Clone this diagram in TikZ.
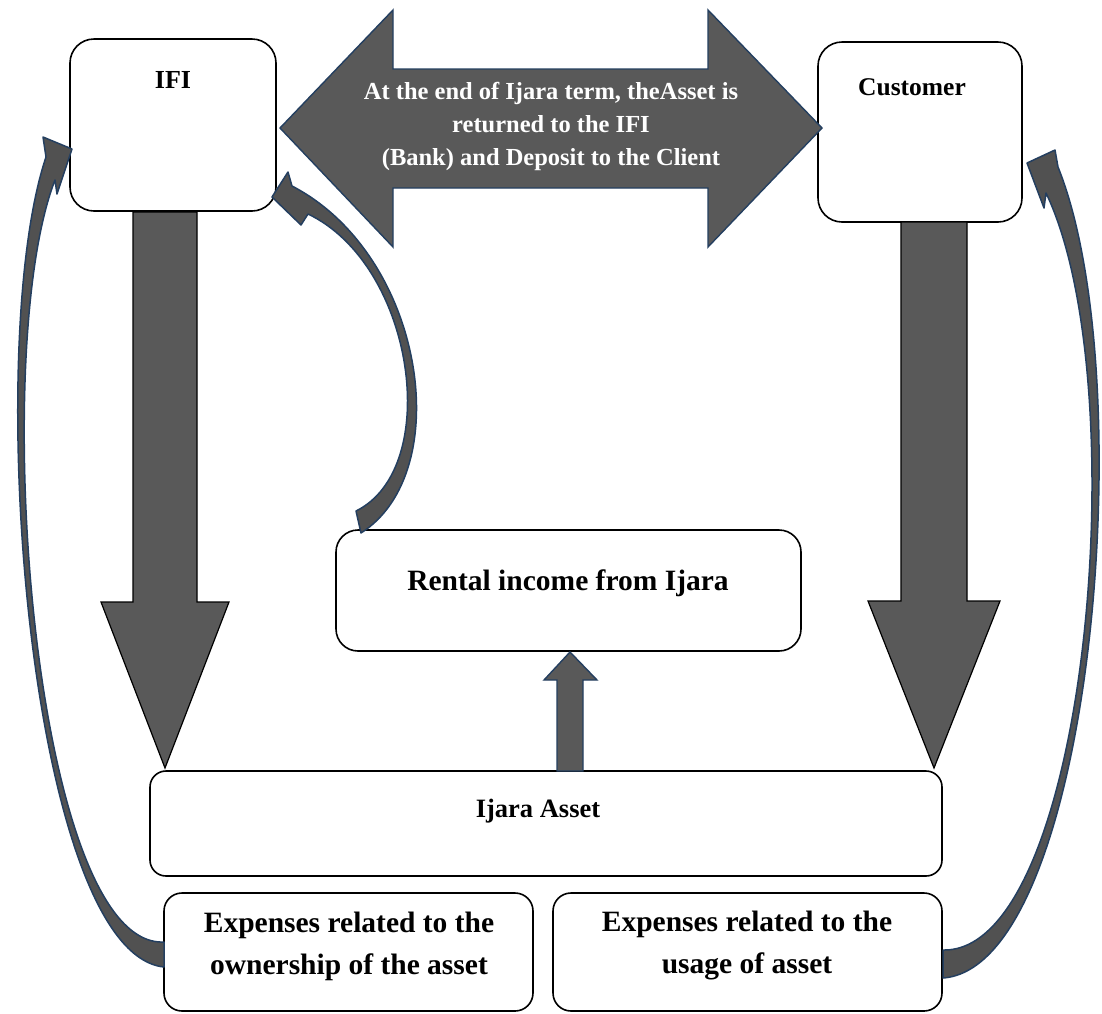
\documentclass[tikz,border=0pt]{standalone}
\usepackage{fontspec}
\setmainfont{Liberation Serif}
\usetikzlibrary{calc}
\definecolor{arrowfill}{HTML}{595959}
\definecolor{curvefill}{HTML}{515151}
\definecolor{navy}{HTML}{243F60}
\begin{document}
\begin{tikzpicture}[x=1pt,y=-1pt,
  box/.style={draw=black, line width=1.6pt, rounded corners=18pt, fill=white, inner sep=0pt},
  bigbox/.style={box, rounded corners=24pt},
  blockarrow/.style={fill=arrowfill, draw=black, line width=1.2pt, line join=miter},
  navyblock/.style={fill=arrowfill, draw=navy, line width=1.4pt, line join=miter},
  navycurve/.style={fill=curvefill, draw=navy, line width=1.5pt, line join=round},
  lbl/.style={align=center, inner sep=0pt},
]
\useasboundingbox (0,0) rectangle (1102,1013);

% boxes
\node[bigbox, minimum width=206pt, minimum height=172pt] (ifi) at (173,125) {};
\node[bigbox, minimum width=204pt, minimum height=180pt] (cust) at (920,132) {};
\node[box, rounded corners=22pt, minimum width=465pt, minimum height=121pt] (rent) at (568.5,590.5) {};
\node[box, rounded corners=16pt, minimum width=792pt, minimum height=105pt] (asset) at (546,823.5) {};
\node[box, minimum width=369pt, minimum height=118pt] (expown) at (348.5,952) {};
\node[box, minimum width=389pt, minimum height=118pt] (expuse) at (747.5,952) {};

% down block arrows
\filldraw[blockarrow] (133,212) -- (197,212) -- (197,602) -- (229,602) -- (165,768)
  -- (101,602) -- (133,602) -- cycle;
\filldraw[blockarrow] (901,222) -- (967,222) -- (967,601) -- (1000,601) -- (934,768)
  -- (868,601) -- (901,601) -- cycle;

% double arrow
\filldraw[navyblock] (280,128) -- (393,10) -- (393,69) -- (708,69) -- (708,10) -- (822,128)
  -- (708,247) -- (708,188) -- (393,188) -- (393,247) -- cycle;

% up arrow asset -> rental
\filldraw[navyblock] (557,771) -- (557,680) -- (544,680) -- (570,652) -- (597,680)
  -- (583,680) -- (583,771) -- cycle;

% left curved arrow (ownership expenses -> IFI)
\filldraw[navycurve] (72,149) -- (43,137) -- (46,157)
  .. controls (-18,348) and (29,953) .. (164,967) -- (164,942)
  .. controls (33,948) and (-12,352) .. (55,180) -- (57,194) -- cycle;

% right curved arrow (usage expenses -> Customer)
\filldraw[navycurve] (1027,163) -- (1055,150) -- (1058,167)
  .. controls (1143,378) and (1092,967) .. (943,978) -- (943,950)
  .. controls (1088,953) and (1137,382) .. (1046,193) -- (1044,208) -- cycle;

% middle curved arrow (rental -> IFI)
\filldraw[navycurve] (272,197) -- (288,172) -- (292,186)
  .. controls (425,255) and (457,472) .. (361,533) -- (356,511)
  .. controls (443,468) and (415,265) .. (308,214) -- (301,225) -- cycle;

% texts
\node[lbl, font=\bfseries\fontsize{26}{30}\selectfont] (ifit) at (173,80) {IFI};
\node[lbl, font=\bfseries\fontsize{25.5}{30}\selectfont] (custt) at (912,87) {Customer};
\node[lbl, text=white, font=\bfseries\fontsize{24.5}{33}\selectfont] (dtext) at (551,126)
  {At the end of Ijara term, theAsset is\\returned to the IFI\\(Bank) and Deposit to the Client};
\node[lbl, font=\bfseries\fontsize{29.5}{34}\selectfont] (rentt) at (568,583) {Rental income from Ijara};
\node[lbl, font=\bfseries\fontsize{26.5}{30}\selectfont] (assett) at (538,811) {Ijara Asset};
\node[lbl, font=\bfseries\fontsize{29.5}{42}\selectfont] (expownt) at (349,946)
  {Expenses related to the\\ownership of the asset};
\node[lbl, font=\bfseries\fontsize{29.5}{42}\selectfont] (expuset) at (747,946)
  {Expenses related to the\\usage of asset};
\end{tikzpicture}
\end{document}
